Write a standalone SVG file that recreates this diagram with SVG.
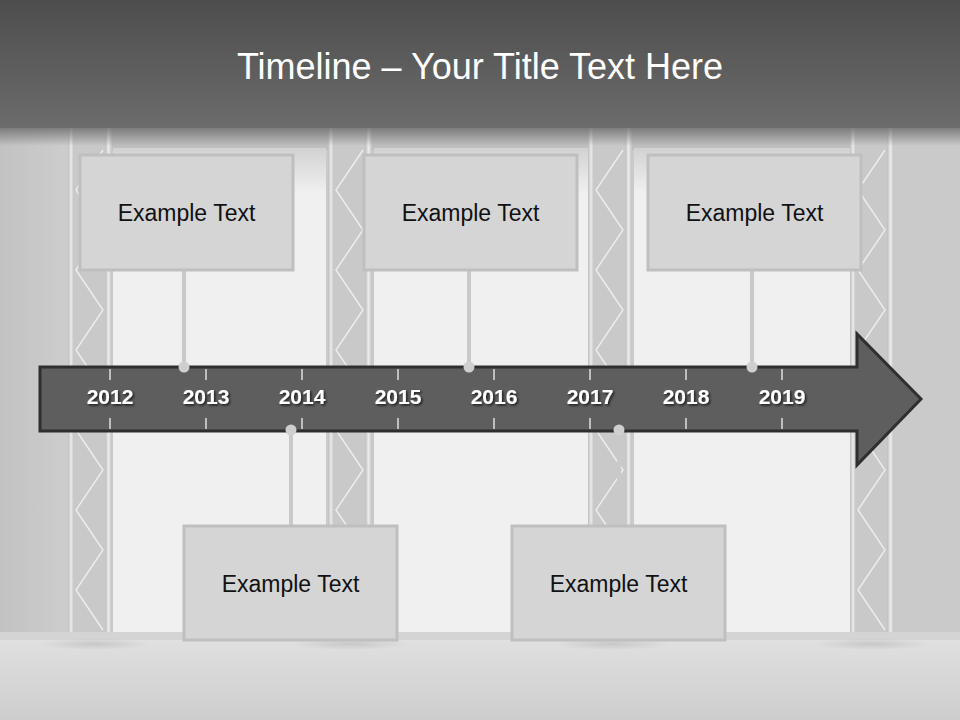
<svg xmlns="http://www.w3.org/2000/svg" width="960" height="720" viewBox="0 0 960 720">
  <defs>
    <linearGradient id="topBand" x1="0" y1="0" x2="0" y2="1">
      <stop offset="0" stop-color="#4d4d4d"/>
      <stop offset="1" stop-color="#6c6c6c"/>
    </linearGradient>
    <linearGradient id="bandFade" x1="0" y1="0" x2="0" y2="1">
      <stop offset="0" stop-color="#6c6c6c" stop-opacity="0.9"/>
      <stop offset="1" stop-color="#6c6c6c" stop-opacity="0"/>
    </linearGradient>
    <linearGradient id="floor" x1="0" y1="0" x2="0" y2="1">
      <stop offset="0" stop-color="#e0e0e0"/>
      <stop offset="1" stop-color="#cdcdcd"/>
    </linearGradient>
    <linearGradient id="sideL" x1="0" y1="0" x2="1" y2="0">
      <stop offset="0" stop-color="#c2c2c2"/>
      <stop offset="1" stop-color="#cdcdcd"/>
    </linearGradient>
    <linearGradient id="screenTop" x1="0" y1="0" x2="0" y2="1">
      <stop offset="0" stop-color="#d2d2d2"/>
      <stop offset="1" stop-color="#f0f0f0"/>
    </linearGradient>
    <linearGradient id="bar" x1="0" y1="0" x2="1" y2="0">
      <stop offset="0" stop-color="#bdbdbd"/>
      <stop offset="0.5" stop-color="#ebebeb"/>
      <stop offset="1" stop-color="#c2c2c2"/>
    </linearGradient>
    <radialGradient id="shadow">
      <stop offset="0" stop-color="#b8b8b8" stop-opacity="0.6"/>
      <stop offset="1" stop-color="#b8b8b8" stop-opacity="0"/>
    </radialGradient>
    <filter id="txtShadow" x="-20%" y="-20%" width="140%" height="140%">
      <feDropShadow dx="1.5" dy="1.5" stdDeviation="0.8" flood-color="#000" flood-opacity="0.7"/>
    </filter>
    <g id="truss">
      <rect x="5" y="128" width="33" height="512" fill="#c9c9c9"/>
      <polyline points="35,150 8,190 35,230 8,270 35,310 8,350 35,390 8,430 35,470 8,510 35,550 8,590 35,630" fill="none" stroke="#f4f4f4" stroke-width="1.4" stroke-opacity="0.85"/>
      <rect x="0" y="128" width="6" height="512" fill="url(#bar)"/>
      <rect x="37" y="128" width="7" height="512" fill="url(#bar)"/>
    </g>
    <style>
      .screen { fill: #f0f0f0; }
      .box { fill: #d5d5d5; stroke: #bfbfbf; stroke-width: 3; }
      .label { font-family: "Liberation Sans", Arial, sans-serif; font-size: 23px; fill: #111111; text-anchor: middle; }
      .year { font-family: "Liberation Sans", Arial, sans-serif; font-size: 21px; font-weight: bold; fill: #ffffff; text-anchor: middle; }
      .tick { stroke: #ffffff; stroke-width: 1.2; }
      .conn { stroke: #c9c9c9; stroke-width: 4; }
      .dot { fill: #cfcfcf; }
      .title { font-family: "Liberation Sans", Arial, sans-serif; font-size: 36px; fill: #ffffff; text-anchor: middle; }
    </style>
  </defs>

  <!-- background scene -->
  <g id="background">
    <rect x="0" y="0" width="960" height="720" fill="#cacaca"/>
    <rect x="0" y="128" width="68" height="512" fill="url(#sideL)"/>
    <rect x="68" y="128" width="826" height="22" fill="#bfbfbf"/>
    <rect x="113" y="148" width="213" height="487" class="screen"/>
    <rect x="374" y="148" width="214" height="487" class="screen"/>
    <rect x="634" y="148" width="216" height="487" class="screen"/>
    <rect x="113" y="148" width="213" height="45" fill="url(#screenTop)"/>
    <rect x="374" y="148" width="214" height="45" fill="url(#screenTop)"/>
    <rect x="634" y="148" width="216" height="45" fill="url(#screenTop)"/>
    <use href="#truss" x="68"/>
    <use href="#truss" x="328"/>
    <use href="#truss" x="588"/>
    <use href="#truss" x="850"/>
    <rect x="0" y="632" width="960" height="10" fill="#d4d4d4"/>
    <rect x="0" y="640" width="960" height="80" fill="url(#floor)"/>
    <ellipse cx="95" cy="644" rx="55" ry="6" fill="url(#shadow)"/>
    <ellipse cx="350" cy="644" rx="58" ry="6" fill="url(#shadow)"/>
    <ellipse cx="612" cy="644" rx="58" ry="6" fill="url(#shadow)"/>
    <ellipse cx="872" cy="644" rx="58" ry="6" fill="url(#shadow)"/>
    <rect x="0" y="0" width="960" height="128" fill="url(#topBand)"/>
    <rect x="0" y="126" width="960" height="20" fill="url(#bandFade)"/>
  </g>

  <g id="title">
    <text class="title" x="480" y="79">Timeline – Your Title Text Here</text>
  </g>

  <!-- timeline arrow -->
  <g id="timeline">
    <path d="M40,367 H857 V334 L921,399 L857,465 V431 H40 Z" fill="#5e5e5e" stroke="#2f2f2f" stroke-width="3" stroke-linejoin="miter"/>
    <g class="ticks">
      <line class="tick" x1="110" y1="369" x2="110" y2="380"/><line class="tick" x1="110" y1="418" x2="110" y2="429"/>
      <line class="tick" x1="206" y1="369" x2="206" y2="380"/><line class="tick" x1="206" y1="418" x2="206" y2="429"/>
      <line class="tick" x1="302" y1="369" x2="302" y2="380"/><line class="tick" x1="302" y1="418" x2="302" y2="429"/>
      <line class="tick" x1="398" y1="369" x2="398" y2="380"/><line class="tick" x1="398" y1="418" x2="398" y2="429"/>
      <line class="tick" x1="494" y1="369" x2="494" y2="380"/><line class="tick" x1="494" y1="418" x2="494" y2="429"/>
      <line class="tick" x1="590" y1="369" x2="590" y2="380"/><line class="tick" x1="590" y1="418" x2="590" y2="429"/>
      <line class="tick" x1="686" y1="369" x2="686" y2="380"/><line class="tick" x1="686" y1="418" x2="686" y2="429"/>
      <line class="tick" x1="782" y1="369" x2="782" y2="380"/><line class="tick" x1="782" y1="418" x2="782" y2="429"/>
    </g>
    <g filter="url(#txtShadow)">
      <text class="year" x="110" y="404">2012</text>
      <text class="year" x="206" y="404">2013</text>
      <text class="year" x="302" y="404">2014</text>
      <text class="year" x="398" y="404">2015</text>
      <text class="year" x="494" y="404">2016</text>
      <text class="year" x="590" y="404">2017</text>
      <text class="year" x="686" y="404">2018</text>
      <text class="year" x="782" y="404">2019</text>
    </g>
  </g>

  <!-- connectors -->
  <g id="connectors">
    <line class="conn" x1="184" y1="270" x2="184" y2="367"/>
    <circle class="dot" cx="184" cy="367" r="5.5"/>
    <line class="conn" x1="469" y1="270" x2="469" y2="367"/>
    <circle class="dot" cx="469" cy="367" r="5.5"/>
    <line class="conn" x1="752" y1="270" x2="752" y2="367"/>
    <circle class="dot" cx="752" cy="367" r="5.5"/>
    <line class="conn" x1="291" y1="430" x2="291" y2="526"/>
    <circle class="dot" cx="291" cy="430" r="5.5"/>
    <line class="conn" x1="619" y1="430" x2="619" y2="526"/>
    <circle class="dot" cx="619" cy="430" r="5.5"/>
  </g>

  <!-- nodes -->
  <g id="node1">
    <rect class="box" x="80" y="155" width="213" height="115"/>
    <text class="label" x="186.5" y="221">Example Text</text>
  </g>
  <g id="node2">
    <rect class="box" x="364" y="155" width="213" height="115"/>
    <text class="label" x="470.5" y="221">Example Text</text>
  </g>
  <g id="node3">
    <rect class="box" x="648" y="155" width="213" height="115"/>
    <text class="label" x="754.5" y="221">Example Text</text>
  </g>
  <g id="node4">
    <rect class="box" x="184" y="526" width="213" height="114"/>
    <text class="label" x="290.5" y="592">Example Text</text>
  </g>
  <g id="node5">
    <rect class="box" x="512" y="526" width="213" height="114"/>
    <text class="label" x="618.5" y="592">Example Text</text>
  </g>
</svg>
